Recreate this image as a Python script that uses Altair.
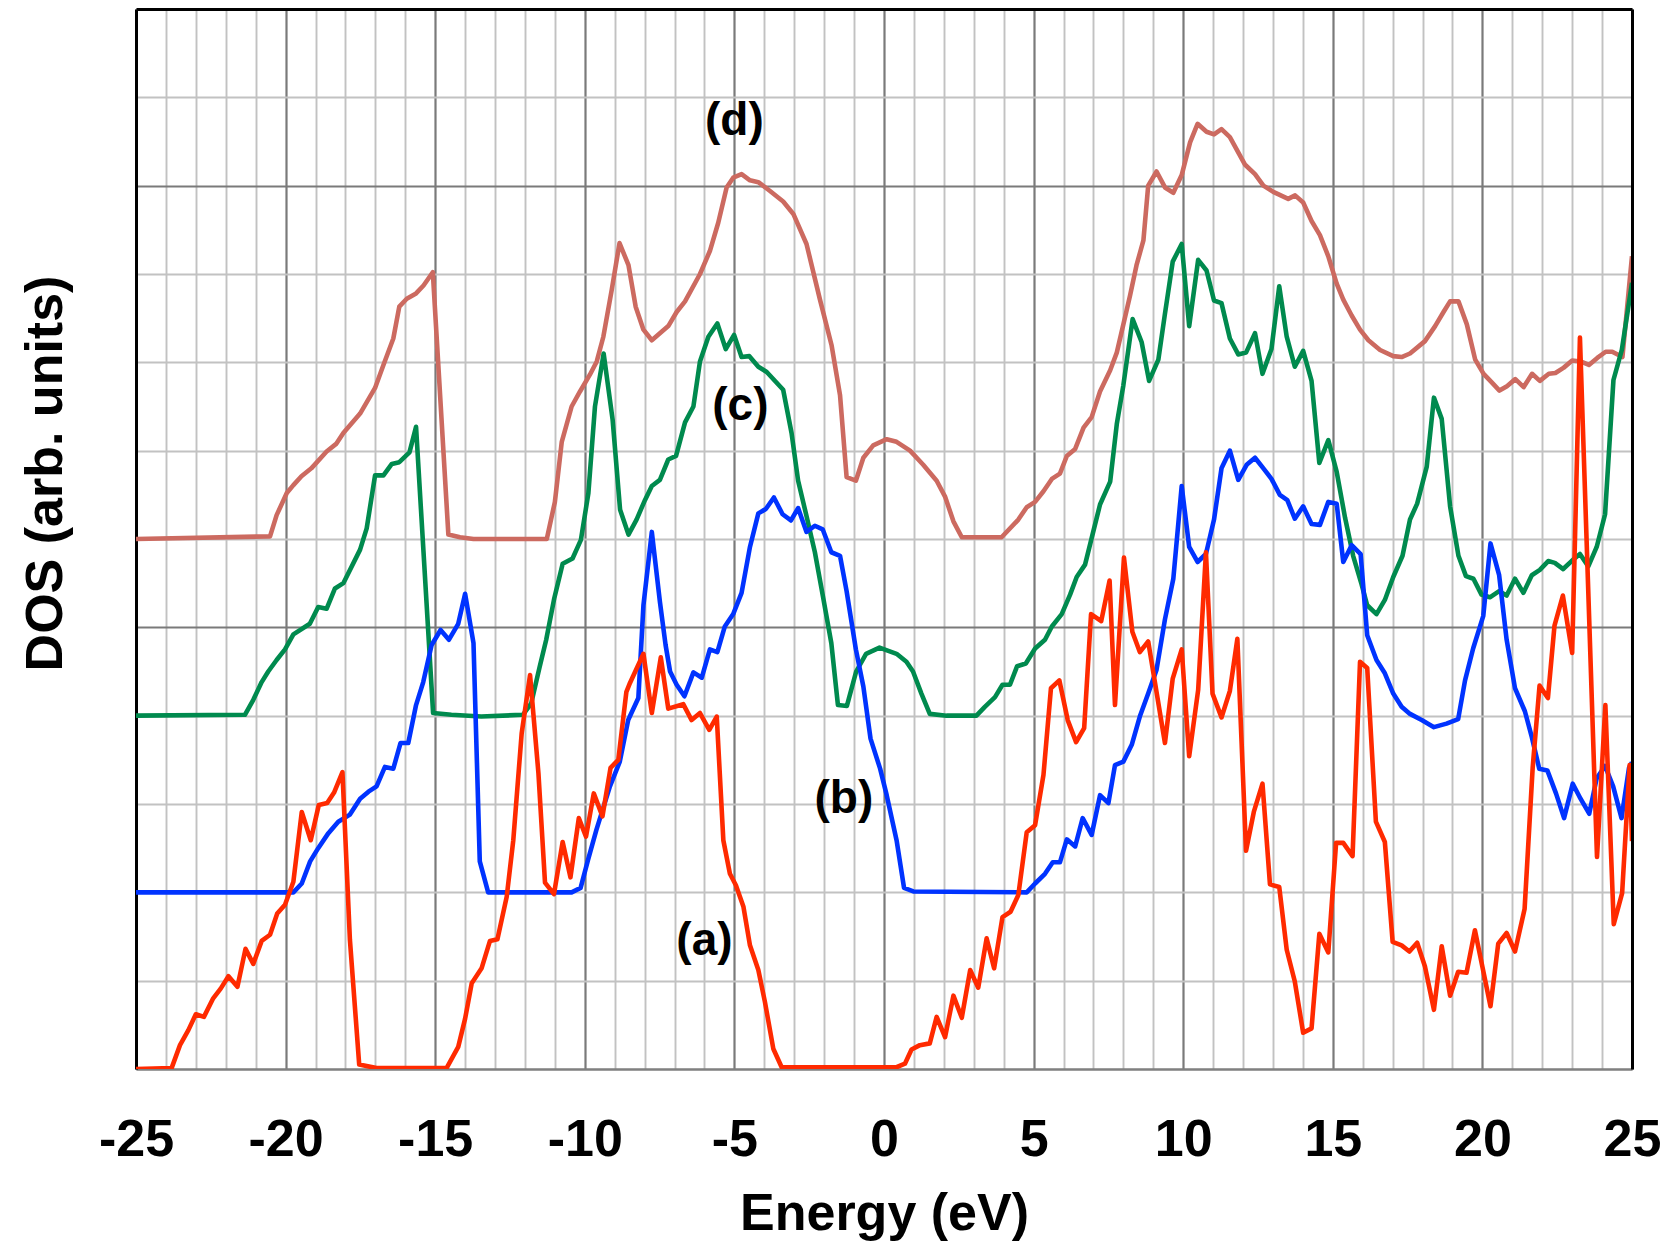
import altair as alt
import pandas as pd

# ---- data (energy in eV, DOS in arb. units, offset baselines) ----
a_E = [-25, -23.81, -23.53, -23.25, -23.0, -22.73, -22.42, -22.17, -21.91, -21.61, -21.34, -21.08,
       -20.80, -20.52, -20.28, -20.02, -19.74, -19.46, -19.16, -18.89, -18.61, -18.38, -18.10, -17.85,
       -17.54, -16.96, -14.62, -14.23, -14.0, -13.78, -13.45, -13.17, -12.92, -12.61, -12.39, -12.11,
       -11.83, -11.55, -11.33, -11.03, -10.74, -10.48, -10.20, -9.96, -9.70, -9.41, -9.14, -8.88,
       -8.61, -8.49, -8.04, -7.76, -7.46, -7.21, -6.71, -6.43, -6.15, -5.84, -5.59, -5.37, -5.15,
       -4.95, -4.70, -4.48, -4.20, -3.98, -3.70, -3.42, 0.42, 0.70, 0.92, 1.20, 1.53, 1.76, 2.04,
       2.32, 2.60, 2.88, 3.15, 3.43, 3.68, 3.96, 4.23, 4.49, 4.77, 5.05, 5.33, 5.58, 5.86, 6.14,
       6.42, 6.69, 6.92, 7.26, 7.54, 7.72, 8.02, 8.30, 8.55, 8.83, 9.39, 9.65, 9.95, 10.20, 10.50,
       10.76, 10.98, 11.28, 11.56, 11.81, 12.10, 12.36, 12.65, 12.90, 13.21, 13.46, 13.73, 14.01,
       14.29, 14.55, 14.85, 15.11, 15.35, 15.66, 15.91, 16.15, 16.44, 16.74, 17.0, 17.30, 17.56,
       17.82, 18.08, 18.38, 18.64, 18.92, 19.19, 19.47, 19.75, 20.01, 20.27, 20.53, 20.81, 21.09,
       21.41, 21.68, 21.91, 22.19, 22.41, 22.69, 23.0, 23.26, 23.83, 24.11, 24.39, 24.67, 24.92, 25.0]
a_V = [0.0, 0.01, 0.27, 0.44, 0.62, 0.59, 0.80, 0.91, 1.05, 0.93, 1.36, 1.19,
       1.45, 1.52, 1.76, 1.86, 2.12, 2.91, 2.59, 2.99, 3.01, 3.13, 3.36, 1.46,
       0.05, 0.01, 0.01, 0.25, 0.57, 0.97, 1.14, 1.45, 1.47, 1.95, 2.59, 3.80,
       4.46, 3.35, 2.11, 1.98, 2.57, 2.17, 2.84, 2.63, 3.12, 2.86, 3.41, 3.50,
       4.27, 4.37, 4.70, 4.03, 4.66, 4.08, 4.13, 3.95, 4.03, 3.84, 3.99, 2.59, 2.21,
       2.08, 1.84, 1.40, 1.12, 0.76, 0.23, 0.02, 0.02, 0.06, 0.22, 0.27, 0.29, 0.59, 0.36,
       0.83, 0.58, 1.12, 0.92, 1.48, 1.14, 1.72, 1.78, 1.97, 2.68, 2.76, 3.33, 4.31, 4.40, 3.95,
       3.70, 3.86, 5.15, 5.07, 5.53, 4.12, 5.79, 4.95, 4.72, 4.84, 3.69, 4.42, 4.75, 3.54, 4.29,
       5.85, 4.25, 3.98, 4.28, 4.87, 2.47, 2.91, 3.23, 2.09, 2.06, 1.35, 0.99, 0.41,
       0.46, 1.53, 1.32, 2.56, 2.56, 2.41, 4.61, 4.54, 2.80, 2.57, 1.44, 1.40, 1.33,
       1.43, 1.16, 0.67, 1.39, 0.83, 1.10, 1.09, 1.57, 1.14, 0.71, 1.42, 1.54, 1.33,
       1.81, 3.41, 4.34, 4.20, 5.02, 5.36, 4.71, 8.28, 2.40, 4.12, 1.64, 1.99, 3.44, 2.58]

b_E = [-25, -19.74, -19.46, -19.18, -18.91, -18.57, -18.24, -17.85, -17.51, -17.23, -16.96, -16.68,
       -16.40, -16.16, -15.90, -15.64, -15.40, -15.12, -14.82, -14.54, -14.23, -14.0, -13.72, -13.51,
       -13.23, -10.44, -10.14, -9.89, -9.61, -9.16, -8.83, -8.55, -8.21, -8.04, -7.76, -7.49, -7.30,
       -7.15, -6.93, -6.67, -6.37, -6.09, -5.82, -5.57, -5.32, -5.04, -4.76, -4.48, -4.20, -3.95,
       -3.68, -3.39, -3.11, -2.87, -2.59, -2.31, -2.05, -1.76, -1.47, -1.25, -0.94, -0.69, -0.45,
       -0.13, 0.09, 0.42, 0.67, 0.98, 4.77, 5.05, 5.38, 5.64, 5.88, 6.11, 6.39, 6.64, 6.94, 7.22,
       7.50, 7.72, 8.00, 8.28, 8.55, 8.83, 9.11, 9.39, 9.67, 9.95, 10.20, 10.48, 10.76, 11.03,
       11.28, 11.56, 11.84, 12.12, 12.40, 12.68, 12.95, 13.23, 13.48, 13.73, 14.01, 14.29, 14.57,
       14.85, 15.13, 15.35, 15.63, 15.93, 16.15, 16.46, 16.74, 17.02, 17.30, 17.58, 17.97, 18.38,
       18.80, 19.19, 19.42, 19.69, 20.03, 20.27, 20.56, 20.81, 21.09, 21.42, 21.65, 21.90, 22.17,
       22.46, 22.73, 23.02, 23.28, 23.57, 23.82, 24.10, 24.37, 24.65, 24.90, 25.0]
b_V = [2.0, 2.0, 2.10, 2.35, 2.50, 2.67, 2.80, 2.88, 3.06, 3.14, 3.20, 3.42,
       3.40, 3.69, 3.69, 4.12, 4.38, 4.80, 4.97, 4.86, 5.04, 5.38, 4.82, 2.35,
       2.0, 2.0, 2.05, 2.37, 2.71, 3.20, 3.48, 3.95, 4.20, 5.25, 6.08, 5.29, 4.80,
       4.50, 4.35, 4.22, 4.49, 4.43, 4.75, 4.72, 5.01, 5.15, 5.39, 5.91, 6.29, 6.34,
       6.47, 6.28, 6.21, 6.35, 6.08, 6.15, 6.11, 5.85, 5.81, 5.41, 4.75, 4.33, 3.74,
       3.40, 3.10, 2.59, 2.05, 2.01, 2.0, 2.10, 2.21, 2.34, 2.34, 2.60, 2.52, 2.84, 2.65, 3.10,
       3.01, 3.44, 3.48, 3.67, 3.99, 4.25, 4.52, 5.09, 5.55, 6.60, 5.91, 5.74, 5.83, 6.22,
       6.80, 7.00, 6.67, 6.84, 6.92, 6.80, 6.68, 6.50, 6.44, 6.23, 6.37, 6.17, 6.16,
       6.42, 6.40, 5.74, 5.93, 5.83, 4.91, 4.63, 4.48, 4.25, 4.10, 4.02, 3.95, 3.87,
       3.91, 3.96, 4.40, 4.76, 5.13, 5.95, 5.59, 4.86, 4.31, 4.05, 3.76, 3.40, 3.38,
       3.12, 2.84, 3.23, 3.06, 2.89, 3.29, 3.43, 3.20, 2.84, 3.41, 3.47]

c_E = [-25, -21.36, -21.08, -20.80, -20.58, -20.30, -20.02, -19.74, -19.19, -18.91, -18.63, -18.35,
       -18.07, -17.51, -17.29, -17.01, -16.73, -16.45, -16.20, -15.86, -15.64, -15.07, -14.46,
       -13.46, -12.07, -11.79, -11.51, -11.29, -11.02, -10.74, -10.41, -10.13, -9.88, -9.66, -9.37,
       -9.07, -8.82, -8.54, -8.27, -7.99, -7.76, -7.49, -7.21, -6.95, -6.65, -6.37, -6.15, -5.87,
       -5.57, -5.29, -5.01, -4.76, -4.50, -4.20, -3.92, -3.37, -3.09, -2.87, -2.59, -2.31, -2.03,
       -1.76, -1.54, -1.24, -0.93, -0.60, -0.15, 0.42, 0.75, 0.97, 1.25, 1.53, 2.09, 3.09, 3.37,
       3.71, 3.96, 4.21, 4.45, 4.74, 5.05, 5.38, 5.61, 5.94, 6.22, 6.44, 6.72, 6.94, 7.22, 7.56,
       7.78, 8.00, 8.31, 8.61, 8.86, 9.17, 9.39, 9.65, 9.95, 10.20, 10.50, 10.78, 11.03, 11.28,
       11.56, 11.84, 12.10, 12.40, 12.65, 12.95, 13.21, 13.46, 13.73, 14.01, 14.29, 14.55, 14.85,
       15.13, 15.41, 15.68, 15.96, 16.15, 16.46, 16.74, 17.02, 17.33, 17.58, 17.82, 18.14, 18.38,
       18.64, 18.92, 19.20, 19.45, 19.70, 19.97, 20.25, 20.56, 20.81, 21.09, 21.37, 21.65, 21.92,
       22.20, 22.42, 22.70, 22.98, 23.26, 23.54, 23.82, 24.10, 24.38, 24.66, 25.0]
c_V = [4.0, 4.01, 4.18, 4.38, 4.50, 4.63, 4.75, 4.92, 5.04, 5.23, 5.21, 5.44,
       5.50, 5.88, 6.12, 6.72, 6.72, 6.85, 6.87, 6.98, 7.27, 4.03, 4.01,
       3.99, 4.01, 4.14, 4.55, 4.86, 5.33, 5.72, 5.78, 5.99, 6.52, 7.50, 8.10,
       7.35, 6.33, 6.05, 6.22, 6.44, 6.60, 6.67, 6.90, 6.94, 7.32, 7.50, 8.01, 8.29,
       8.44, 8.15, 8.31, 8.06, 8.07, 7.95, 7.89, 7.69, 7.20, 6.66, 6.26, 5.85, 5.33,
       4.82, 4.12, 4.11, 4.50, 4.70, 4.77, 4.70, 4.61, 4.50, 4.25, 4.02, 4.0, 4.0, 4.10,
       4.21, 4.35, 4.35, 4.56, 4.59, 4.76, 4.86, 5.01, 5.15, 5.37, 5.57, 5.71, 6.01, 6.39, 6.65,
       7.30, 7.74, 8.49, 8.23, 7.79, 8.03, 8.55, 9.14, 9.34, 8.41, 9.16, 9.04, 8.70, 8.67,
       8.27, 8.09, 8.11, 8.33, 7.87, 8.15, 8.86, 8.29, 7.95, 8.13, 7.79, 6.86, 7.12,
       6.76, 6.24, 5.81, 5.49, 5.25, 5.15, 5.31, 5.57, 5.81, 6.22, 6.40, 6.82, 7.60,
       7.36, 6.37, 5.81, 5.58, 5.55, 5.37, 5.34, 5.41, 5.36, 5.55, 5.39, 5.59, 5.65,
       5.75, 5.73, 5.66, 5.75, 5.83, 5.69, 5.91, 6.28, 7.80, 8.14, 8.9]

d_E = [-25, -20.52, -20.30, -19.96, -19.74, -19.47, -19.14, -18.63, -18.30, -18.07, -17.51, -17.01,
       -16.73, -16.40, -16.20, -15.95, -15.64, -15.39, -15.08, -14.56, -14.17, -13.72, -11.27,
       -11.0, -10.77, -10.44, -10.16, -9.83, -9.60, -9.38, -9.10, -8.84, -8.54, -8.30, -8.04,
       -7.76, -7.21, -6.93, -6.65, -6.15, -5.82, -5.54, -5.26, -5.04, -4.76, -4.48, -4.20, -3.81,
       -3.37, -3.03, -2.59, -2.14, -1.75, -1.47, -1.25, -0.94, -0.69, -0.36, 0.09, 0.42, 0.87,
       1.31, 1.76, 2.04, 2.32, 2.60, 3.93, 4.49, 4.77, 5.05, 5.33, 5.61, 5.88, 6.11, 6.39, 6.67,
       6.94, 7.22, 7.56, 7.78, 8.11, 8.22, 8.44, 8.67, 8.83, 9.11, 9.39, 9.67, 9.95, 10.23, 10.48,
       10.78, 11.03, 11.28, 11.56, 12.06, 12.40, 12.68, 13.01, 13.51, 13.74, 14.01, 14.29, 14.57,
       14.85, 15.13, 15.35, 15.63, 15.91, 16.19, 16.58, 17.02, 17.30, 17.58, 18.08, 18.42, 18.70,
       18.92, 19.20, 19.48, 19.76, 20.04, 20.32, 20.57, 20.82, 21.10, 21.38, 21.66, 21.92, 22.22,
       22.44, 22.72, 23.00, 23.28, 23.56, 23.84, 24.12, 24.34, 24.68, 25.0]
d_V = [6.0, 6.03, 6.27, 6.52, 6.61, 6.71, 6.80, 6.99, 7.08, 7.20, 7.42, 7.71,
       7.97, 8.27, 8.63, 8.72, 8.78, 8.87, 9.02, 6.05, 6.02, 6.0, 6.0,
       6.42, 7.10, 7.50, 7.67, 7.86, 8.01, 8.29, 8.82, 9.35, 9.10, 8.63, 8.37,
       8.25, 8.41, 8.57, 8.69, 9.00, 9.26, 9.58, 9.98, 10.09, 10.13, 10.06, 10.04, 9.94,
       9.82, 9.68, 9.34, 8.71, 8.19, 7.63, 6.70, 6.66, 6.92, 7.06, 7.13, 7.10, 7.00,
       6.84, 6.66, 6.48, 6.20, 6.02, 6.02, 6.22, 6.36, 6.42, 6.54, 6.68, 6.74, 6.94, 7.02, 7.26,
       7.38, 7.67, 7.91, 8.11, 8.59, 8.75, 9.10, 9.38, 10.0, 10.16, 9.98, 9.92, 10.12, 10.49, 10.70,
       10.61, 10.58, 10.64, 10.55, 10.24, 10.13, 10.0, 9.93, 9.85, 9.89, 9.81, 9.60, 9.44,
       9.20, 8.89, 8.71, 8.53, 8.37, 8.25, 8.14, 8.07, 8.06, 8.10, 8.24, 8.41, 8.57,
       8.69, 8.69, 8.43, 8.03, 7.87, 7.77, 7.68, 7.73, 7.81, 7.72, 7.87, 7.79, 7.87,
       7.88, 7.94, 8.02, 8.01, 7.97, 8.05, 8.12, 8.12, 8.06, 9.2]

label_text = ["(a)", "(b)", "(c)", "(d)"]
label_E = [-6.0, -1.34, -4.8, -5.0]
label_V = [1.45, 3.06, 7.51, 10.73]

x_ticks = list(range(-25, 26))
x_domain = [-25, 25]
y_ticks = list(range(0, 13))
y_domain = [0, 12]

colors = {"a": "#ff2a00", "b": "#0033ff", "c": "#008a4e", "d": "#cc6a60"}

FONT = "Liberation Sans"

xscale = alt.Scale(domain=x_domain, nice=False, zero=False)
yscale = alt.Scale(domain=y_domain, nice=False, zero=False)

grid_color = {"condition": {"test": "datum.value % 5 === 0", "value": "#7a7a7a"}, "value": "#c2c2c2"}
grid_width = {"condition": {"test": "datum.value % 5 === 0", "value": 2.2}, "value": 1.9}

x_axis = alt.Axis(
    values=x_ticks, grid=True, gridColor=grid_color, gridWidth=grid_width,
    labelExpr="datum.value % 5 === 0 ? toString(datum.value) : ''",
    labelFont=FONT, labelFontWeight="bold", labelFontSize=52, labelColor="black",
    labelBaseline="alphabetic", labelPadding=86, labelOverlap=False, labelFlush=False,
    ticks=False, tickSize=0, domain=True, domainColor="#808080", domainWidth=2,
    title="Energy (eV)", titleFont=FONT, titleFontWeight="bold", titleFontSize=52,
    titleColor="black", titleBaseline="alphabetic", titleY=160, titleX=748, titleAlign="center",
    orient="bottom",
)
y_axis = alt.Axis(
    values=y_ticks, grid=True, gridColor=grid_color, gridWidth=grid_width,
    labels=False, ticks=False, tickSize=0, domain=True, domainColor="black", domainWidth=3,
    title="DOS (arb. units)", titleFont=FONT, titleFontWeight="bold", titleFontSize=52,
    titleColor="black", titleAngle=270, titleAlign="center", titleBaseline="alphabetic",
    titleX=-75, titleY=464, orient="left",
)
top_axis = alt.Axis(orient="top", grid=False, labels=False, ticks=False, domain=True,
                    domainColor="black", domainWidth=3, title=None, zindex=1)
right_axis = alt.Axis(orient="right", grid=False, labels=False, ticks=False, domain=True,
                      domainColor="black", domainWidth=3, title=None, zindex=1)


def series_layer(E, V, key, axes=False):
    df = pd.DataFrame({"E": E, "v": V})
    if axes:
        xe = alt.X("E:Q", scale=xscale, axis=x_axis)
        ye = alt.Y("v:Q", scale=yscale, axis=y_axis)
    else:
        xe = alt.X("E:Q", scale=xscale, axis=None)
        ye = alt.Y("v:Q", scale=yscale, axis=None)
    return alt.Chart(df).mark_line(color=colors[key], strokeWidth=4.6, clip=True,
                                   strokeJoin="round").encode(x=xe, y=ye, order="idx:O").transform_window(
        idx="row_number()")


d_layer = series_layer(d_E, d_V, "d", axes=True)
c_layer = series_layer(c_E, c_V, "c")
b_layer = series_layer(b_E, b_V, "b")
a_layer = series_layer(a_E, a_V, "a")

labels_df = pd.DataFrame({"t": label_text, "E": label_E, "v": label_V})
text_layer = alt.Chart(labels_df).mark_text(
    font=FONT, fontWeight="bold", fontSize=46, color="black", align="center", baseline="middle"
).encode(
    x=alt.X("E:Q", scale=xscale, axis=top_axis),
    y=alt.Y("v:Q", scale=yscale, axis=right_axis),
    text="t:N",
)

chart = alt.layer(d_layer, c_layer, b_layer, a_layer, text_layer).resolve_axis(
    x="independent", y="independent"
).properties(
    width=1496, height=1060,
    padding={"left": 136, "top": 9, "right": 41, "bottom": 178},
    autosize="none",
).configure_view(stroke=None).configure(background="white")

chart.save("out.html", embed_options={"renderer": "svg", "actions": False})
